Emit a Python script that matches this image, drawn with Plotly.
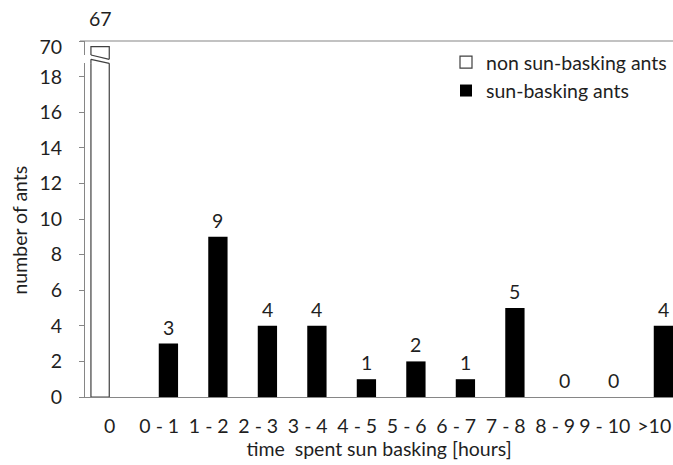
import plotly.graph_objects as go

# ---------------- data ----------------
categories = ["0", "0 - 1", "1 - 2", "2 - 3", "3 - 4", "4 - 5", "5 - 6",
              "6 - 7", "7 - 8", "8 - 9", "9 - 10", ">10"]
non_basking = [67, None, None, None, None, None, None, None, None, None, None, None]
basking = [None, 3, 9, 4, 4, 1, 2, 1, 5, 0, 0, 4]
lower_ticks = [0, 2, 4, 6, 8, 10, 12, 14, 16, 18]
upper_ticks = [70]

# ---------------- layout constants ----------------
W, H = 673, 465
ML, MR, MT, MB = 85, 0, 41, 68
PLOT_H = H - MT - MB
PLOT_W = W - ML - MR


def py2paper(py):
    return (H - MB - py) / PLOT_H


AXIS_COL = "#868686"
TEXT_COL = "#1f1f1f"
FONT = "Lato"
FS = 19.5

W_OFF, W_WID = -0.38, 0.37      # white bar offset / width (category units)
B_OFF, B_WID = -0.01, 0.39      # black bar offset / width

low_top_px, up_bot_px = 63.3, 55.0
low_dom = [0, py2paper(low_top_px)]
up_dom = [py2paper(up_bot_px), 1]
px_per_unit = (H - MB - 76.7) / 18
low_range = [0, (H - MB - low_top_px) / px_per_unit]
up_range = [70 - (up_bot_px - MT) / 1.9, 70]

fig = go.Figure()

white_style = dict(color="white", line=dict(color="#404040", width=1.2))
fig.add_trace(go.Bar(x=categories, y=non_basking, yaxis="y", offset=W_OFF, width=W_WID,
                     marker=white_style, showlegend=False, name="non sun-basking ants",
                     legendgroup="a"))
fig.add_trace(go.Bar(x=categories, y=non_basking, yaxis="y2", offset=W_OFF, width=W_WID,
                     marker=white_style, name="non sun-basking ants", legendgroup="a"))
fig.add_trace(go.Bar(x=categories, y=basking, yaxis="y", offset=B_OFF, width=B_WID,
                     marker=dict(color="black", line=dict(width=0)),
                     name="sun-basking ants", legendgroup="b"))

annotations = []
for i, v in enumerate(basking):
    if v is None:
        continue
    annotations.append(dict(x=i + B_OFF + B_WID / 2, y=v, xref="x", yref="y",
                            text=str(v), showarrow=False, yanchor="bottom", yshift=3,
                            font=dict(family=FONT, size=FS, color=TEXT_COL)))
for i, v in enumerate(non_basking):
    if v is None:
        continue
    annotations.append(dict(x=i + W_OFF + W_WID / 2, y=v, xref="x", yref="y2",
                            text=str(v), showarrow=False, yanchor="bottom", yshift=15,
                            font=dict(family=FONT, size=FS, color=TEXT_COL)))

# break marks on the white bar (decoration)
xl, xr = 0 + W_OFF, 0 + W_OFF + W_WID
brk = dict(color="#404040", width=1.2)
shapes = [
    dict(type="line", xref="paper", yref="paper", x0=-5 / PLOT_W, x1=1, y0=1, y1=1,
         line=dict(color=AXIS_COL, width=1.2), layer="above"),
    dict(type="line", xref="x", yref="paper", x0=xl, x1=xr,
         y0=py2paper(55), y1=py2paper(59.3), line=brk),
    dict(type="line", xref="x", yref="paper", x0=xr, x1=xr,
         y0=py2paper(55), y1=py2paper(59.3), line=brk),
    dict(type="line", xref="x", yref="paper", x0=xl, x1=xr,
         y0=py2paper(59.3), y1=py2paper(63.3), line=brk),
    dict(type="line", xref="x", yref="paper", x0=xl, x1=xl,
         y0=py2paper(59.3), y1=py2paper(63.3), line=brk),
]

tickfont = dict(family=FONT, size=FS, color=TEXT_COL)
fig.update_layout(
    width=W, height=H,
    margin=dict(l=ML, r=MR, t=MT, b=MB, pad=0, autoexpand=False),
    paper_bgcolor="white", plot_bgcolor="white",
    barmode="overlay",
    font=dict(family=FONT, size=FS, color=TEXT_COL),
    xaxis=dict(type="category", categoryorder="array", categoryarray=categories,
               range=[-0.5, -0.5 + PLOT_W / 49.5], anchor="y", automargin=False,
               showline=True, linecolor=AXIS_COL, linewidth=1, ticks="",
               showgrid=False, zeroline=False, tickfont=tickfont,
               ticklabelstandoff=12,
               title=dict(text="time  spent sun basking [hours]", font=tickfont, standoff=4)),
    yaxis=dict(domain=low_dom, range=low_range, tickvals=lower_ticks, automargin=False,
               ticks="outside", ticklen=5, tickcolor=AXIS_COL, tickwidth=1,
               showline=True, linecolor=AXIS_COL, linewidth=1,
               showgrid=False, zeroline=False, tickfont=tickfont,
               ticklabelstandoff=13,
               title=dict(text="number of ants", font=tickfont, standoff=6)),
    yaxis2=dict(domain=up_dom, range=up_range, tickvals=upper_ticks, anchor="x",
                automargin=False,
                ticks="outside", ticklen=5, tickcolor=AXIS_COL, tickwidth=1,
                showline=True, linecolor=AXIS_COL, linewidth=1,
                showgrid=False, zeroline=False, tickfont=tickfont,
                ticklabelstandoff=13, ticklabelshift=6),
    legend=dict(x=(446 - ML) / PLOT_W, y=py2paper(43), xanchor="left", yanchor="top",
                bgcolor="rgba(0,0,0,0)", font=dict(family=FONT, size=FS, color=TEXT_COL),
                tracegroupgap=6, traceorder="normal"),
    annotations=annotations,
    shapes=shapes,
)

fig.write_html("out.html", config={"displayModeBar": False},
               post_script="document.body.style.margin='0';document.body.style.overflow='hidden';")
